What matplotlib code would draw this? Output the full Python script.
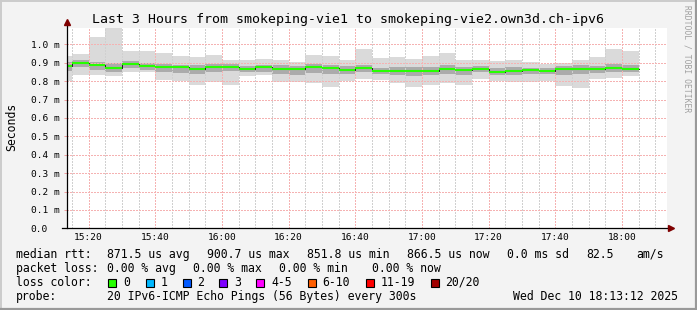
import matplotlib
matplotlib.use("Agg")
import matplotlib.pyplot as plt
from matplotlib.patches import Rectangle
from matplotlib.lines import Line2D
import numpy as np

W, H = 697, 310
MONO = "DejaVu Sans Mono"

# 5 minute rrd steps, first step starts at 15:10 (values in ms)
first_step = "15:10"
step_min = 5
median = [0.880, 0.900, 0.889, 0.872, 0.894, 0.881, 0.876, 0.876, 0.867, 0.876,
          0.879, 0.867, 0.874, 0.867, 0.865, 0.874, 0.869, 0.863, 0.871, 0.857,
          0.857, 0.857, 0.857, 0.864, 0.859, 0.866, 0.852, 0.856, 0.858, 0.857,
          0.866, 0.866, 0.866, 0.869, 0.866]
smoke_max = [0.939, 0.948, 1.040, 1.088, 0.966, 0.961, 0.955, 0.934, 0.929, 0.943,
             0.916, 0.912, 0.921, 0.916, 0.904, 0.943, 0.939, 0.912, 0.972, 0.927,
             0.930, 0.921, 0.934, 0.952, 0.912, 0.916, 0.907, 0.916, 0.904, 0.895,
             0.898, 0.916, 0.930, 0.972, 0.966]
smoke_min = [0.798, 0.832, 0.832, 0.826, 0.850, 0.850, 0.805, 0.800, 0.778, 0.796,
             0.778, 0.826, 0.832, 0.796, 0.796, 0.790, 0.770, 0.800, 0.814, 0.805,
             0.790, 0.770, 0.778, 0.787, 0.778, 0.814, 0.800, 0.796, 0.796, 0.800,
             0.773, 0.760, 0.814, 0.818, 0.826]
smoke_q3 = [0.905, 0.915, 0.905, 0.900, 0.910, 0.900, 0.893, 0.890, 0.885, 0.892,
            0.893, 0.882, 0.890, 0.885, 0.884, 0.895, 0.890, 0.880, 0.890, 0.872,
            0.875, 0.876, 0.878, 0.885, 0.874, 0.880, 0.870, 0.874, 0.872, 0.870,
            0.880, 0.885, 0.884, 0.892, 0.885]
smoke_q1 = [0.855, 0.875, 0.862, 0.850, 0.870, 0.860, 0.848, 0.845, 0.838, 0.850,
            0.855, 0.850, 0.852, 0.838, 0.835, 0.845, 0.840, 0.840, 0.852, 0.838,
            0.834, 0.830, 0.835, 0.838, 0.835, 0.848, 0.832, 0.835, 0.838, 0.838,
            0.835, 0.838, 0.845, 0.850, 0.848]

major_times = ["15:20", "15:40", "16:00", "16:20", "16:40", "17:00", "17:20", "17:40", "18:00"]
y_ticks = [0.0, 0.1, 0.2, 0.3, 0.4, 0.5, 0.6, 0.7, 0.8, 0.9, 1.0]
view_start, view_end = "15:13:30", "18:13:30"

loss_labels = ["0", "1", "2", "3", "4-5", "6-10", "11-19", "20/20"]
loss_colors = ["#26ff00", "#00b8ff", "#0059ff", "#7e00ff", "#ff00ff", "#ff5e00", "#ff0000", "#a10000"]


def to_min(s):
    parts = [int(p) for p in s.split(":")]
    return parts[0] * 60 + parts[1] + (parts[2] / 60 if len(parts) > 2 else 0)


starts = to_min(first_step) + step_min * np.arange(len(median))
med = np.array(median)

fig = plt.figure(figsize=(W / 100, H / 100), dpi=100)
fig.patch.set_facecolor("#f3f3f3")

# plot area in pixels: x 67..667, y 28..228.3
ax = fig.add_axes([67 / W, 1 - 228.3 / H, 600 / W, 200.3 / H])
ax.set_facecolor("white")
for s in ax.spines.values():
    s.set_visible(False)

# smoke
ax.bar(starts, np.array(smoke_max) - np.array(smoke_min), bottom=smoke_min,
       width=step_min, align="edge", color="#dadada", linewidth=0, zorder=1)
ax.bar(starts, np.array(smoke_q3) - np.array(smoke_q1), bottom=smoke_q1,
       width=step_min, align="edge", color="#ababab", linewidth=0, zorder=1)

# median
edges = np.append(starts, starts[-1] + step_min)
ax.step(edges, np.append(med, med[-1]), where="post", color="#202020", lw=0.72, zorder=3)
ax.hlines(med, starts, starts + step_min, colors=loss_colors[0], lw=1.5, zorder=4)

ax.set_xlim(to_min(view_start), to_min(view_end))
ax.set_ylim(0, 1.0886)

majors = [to_min(t) for t in major_times]
minors = [m for m in np.arange(915, 1095, 5) if m not in majors]
ax.set_xticks(majors)
ax.set_xticklabels(major_times)
ax.set_xticks(minors, minor=True)
ax.set_yticks(y_ticks)
ax.set_yticklabels(["0.0"] + [f"{v:.1f} m" for v in y_ticks[1:]])

ax.set_axisbelow("line")
ax.grid(which="major", color="#f5b2b2", lw=0.72, linestyle=(0, (1.4, 1.4)), antialiased=False)
ax.grid(which="minor", axis="x", color="#d0d0d0", lw=0.72, linestyle=(0, (1.4, 1.4)), antialiased=False)

ax.tick_params(axis="y", which="major", length=2.5, width=0.72, color="#f0a0a0",
               pad=23.6, labelsize=6.8)
for lab in ax.get_yticklabels():
    lab.set_horizontalalignment("left")
    lab.set_fontfamily(MONO)
ax.tick_params(axis="x", which="both", length=0, pad=3.2, labelsize=6.8)
for lab in ax.get_xticklabels():
    lab.set_fontfamily(MONO)

# axes with arrows
ax.add_line(Line2D([-0.008, 1.002], [0, 0], transform=ax.transAxes, color="black",
                   lw=0.9, clip_on=False, zorder=6))
ax.add_line(Line2D([0, 0], [0, 1.02], transform=ax.transAxes, color="black",
                   lw=0.9, clip_on=False, zorder=6))
ax.plot([1.007], [0], marker=">", ms=4.2, color="#7f0000", transform=ax.transAxes,
        clip_on=False, zorder=7)
ax.plot([0], [1.028], marker="^", ms=4.2, color="#7f0000", transform=ax.transAxes,
        clip_on=False, zorder=7)


def ftext(x, y, s, **kw):
    kw.setdefault("fontsize", 8.3)
    kw.setdefault("family", MONO)
    kw.setdefault("va", "center")
    kw.setdefault("ha", "left")
    fig.text(x / W, 1 - y / H, s, **kw)


ftext(348, 19.3, "Last 3 Hours from smokeping-vie1 to smokeping-vie2.own3d.ch-ipv6",
      ha="center", fontsize=9.5)
ftext(11.5, 126.5, "Seconds", rotation=90, ha="center")
ftext(687, 59, "RRDTOOL / TOBI OETIKER", rotation=270, ha="center",
      fontsize=5.8, color="#a0a0a0")

# legend
row1 = [("median rtt:", 16), ("871.5 us avg", 107.3), ("900.7 us max", 207.3),
        ("851.8 us min", 307.3), ("866.5 us now", 407.3), ("0.0 ms sd", 507.3),
        ("82.5", 586.7), ("am/s", 636)]
row2 = [("packet loss:", 16), ("0.00 % avg", 107.3), ("0.00 % max", 193.3),
        ("0.00 % min", 279.3), ("0.00 % now", 372)]
row4 = [("probe:", 16), ("20 IPv6-ICMP Echo Pings (56 Bytes) every 300s", 107.3),
        ("Wed Dec 10 18:13:12 2025", 513.3)]
for s, x in row1:
    ftext(x, 254.3, s)
for s, x in row2:
    ftext(x, 268.3, s)
for s, x in row4:
    ftext(x, 296.3, s)

ftext(16, 282.3, "loss color:")
box_x = [108, 145.5, 182.5, 219.3, 256, 307.5, 365.5, 430.5]
for bx, lab, col in zip(box_x, loss_labels, loss_colors):
    fig.add_artist(Rectangle((bx / W, 1 - 286.5 / H), 8 / W, 8 / H, transform=fig.transFigure,
                             facecolor=col, edgecolor="black", lw=0.8))
    ftext(bx + 15, 282.3, lab)

# 3d frame
fig.add_artist(Line2D([0, 1], [1 - 0.5 / H, 1 - 0.5 / H], transform=fig.transFigure, color="#cbcbcb", lw=1.4))
fig.add_artist(Line2D([0.5 / W, 0.5 / W], [0, 1], transform=fig.transFigure, color="#cbcbcb", lw=1.4))
fig.add_artist(Line2D([0, 1], [1 / H, 1 / H], transform=fig.transFigure, color="#999999", lw=1.6))
fig.add_artist(Line2D([1 - 1 / W, 1 - 1 / W], [0, 1], transform=fig.transFigure, color="#999999", lw=1.6))

fig.savefig("out.png", dpi=100, facecolor=fig.get_facecolor())
